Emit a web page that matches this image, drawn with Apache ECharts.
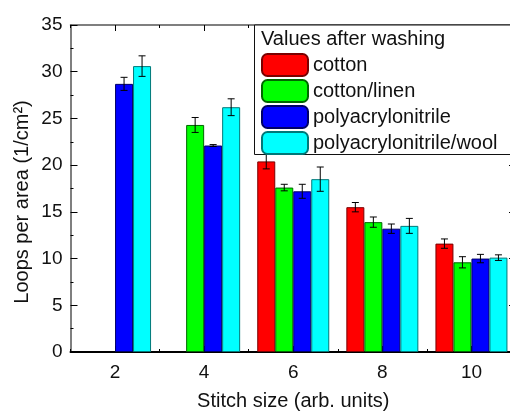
<!DOCTYPE html>
<html>
<head>
<meta charset="utf-8">
<script src="https://cdn.jsdelivr.net/npm/echarts@6/dist/echarts.min.js"></script>
<style>html,body{margin:0;padding:0;background:#fff}#c{width:510px;height:412px}</style>
</head>
<body>
<div id="c"></div>
<script>
const categories = ['2', '4', '6', '8', '10'];
const seriesNames = ['cotton', 'cotton/linen', 'polyacrylonitrile', 'polyacrylonitrile/wool'];
const cotton = [null, null, 20.4, 15.5, 11.6];
const cottonLinen = [null, 24.3, 17.6, 13.9, 9.6];
const pan = [28.7, 22.1, 17.2, 13.2, 10.0];
const panWool = [30.6, 26.2, 18.5, 13.5, 10.1];
const cottonErr = [null, null, 0.8, 0.5, 0.5];
const cottonLinenErr = [null, 0.8, 0.35, 0.55, 0.6];
const panErr = [0.7, 0.1, 0.75, 0.5, 0.45];
const panWoolErr = [1.1, 0.9, 1.3, 0.8, 0.3];
const yTicks = [0, 5, 10, 15, 20, 25, 30, 35];

const values = [cotton, cottonLinen, pan, panWool];
const errors = [cottonErr, cottonLinenErr, panErr, panWoolErr];
const fills = ['#ff0000', '#00ff00', '#0000ff', '#00ffff'];
const borders = ['#7a0000', '#006600', '#000066', '#007878'];
const BAR_W = 18;
const FONT = 'Liberation Sans, Arial, sans-serif';

const chart = echarts.init(document.getElementById('c'), null, {renderer: 'canvas'});

const barSeries = values.map((vals, i) => ({
  name: seriesNames[i],
  type: 'bar',
  xAxisIndex: 0,
  yAxisIndex: 0,
  barWidth: BAR_W,
  barGap: '0%',
  data: vals,
  itemStyle: {color: fills[i], borderColor: borders[i], borderWidth: 1},
  emphasis: {disabled: true},
  z: 2
}));

const errSeries = values.map((vals, i) => ({
  type: 'custom',
  xAxisIndex: 0,
  yAxisIndex: 0,
  z: 3,
  silent: true,
  data: vals.map((v, k) => v == null ? null : [k, v - errors[i][k], v + errors[i][k]]).filter(d => d),
  renderItem: function (params, api) {
    const off = (i - 1.5) * BAR_W;
    const lo = api.coord([api.value(0), api.value(1)]);
    const hi = api.coord([api.value(0), api.value(2)]);
    const x = lo[0] + off;
    const cap = 3.5;
    const st = {stroke: '#000', lineWidth: 1};
    return {
      type: 'group',
      children: [
        {type: 'line', shape: {x1: x, y1: lo[1], x2: x, y2: hi[1]}, style: st},
        {type: 'line', shape: {x1: x - cap, y1: lo[1], x2: x + cap, y2: lo[1]}, style: st},
        {type: 'line', shape: {x1: x - cap, y1: hi[1], x2: x + cap, y2: hi[1]}, style: st}
      ]
    };
  }
}));

function xAux(position, major, showLine, lineColor, lineWidth) {
  return {
    type: 'category',
    data: categories,
    position: position,
    boundaryGap: true,
    axisLine: {show: showLine, lineStyle: {color: lineColor, width: lineWidth}},
    axisTick: {show: true, inside: true, alignWithLabel: major, length: major ? 6 : 3, lineStyle: {color: '#000', width: 1}},
    axisLabel: {show: false},
    splitLine: {show: false}
  };
}

const option = {
  animation: false,
  backgroundColor: '#fff',
  grid: {left: 70.5, top: 25, width: 445.5, height: 327, containLabel: false, outerBoundsMode: 'none'},
  legend: {
    show: true,
    data: seriesNames,
    orient: 'vertical',
    left: 261,
    top: 53,
    padding: 0,
    itemWidth: 46,
    itemHeight: 22,
    itemGap: 2,
    selectedMode: false,
    textStyle: {fontFamily: FONT, fontSize: 20, color: '#111'},
    z: 20
  },
  xAxis: [
    {
      type: 'category',
      data: categories,
      position: 'bottom',
      boundaryGap: true,
      axisLine: {show: true, lineStyle: {color: '#000', width: 2}},
      axisTick: {show: true, inside: true, alignWithLabel: true, length: 6, lineStyle: {color: '#000', width: 1}},
      axisLabel: {show: true, margin: 11, fontFamily: FONT, fontSize: 19, color: '#111'},
      splitLine: {show: false},
      name: 'Stitch size (arb. units)',
      nameLocation: 'middle',
      nameGap: 39,
      nameTextStyle: {fontFamily: FONT, fontSize: 20, color: '#111'}
    },
    xAux('bottom', false, false, '#000', 1),
    xAux('top', true, true, '#555', 1.5),
    xAux('top', false, false, '#555', 1)
  ],
  yAxis: [
    {
      type: 'value',
      min: 0,
      max: 35,
      interval: 5,
      position: 'left',
      axisLine: {show: true, lineStyle: {color: '#555', width: 1.5}},
      axisTick: {show: true, inside: true, length: 7, lineStyle: {color: '#000', width: 1}},
      minorTick: {show: true, splitNumber: 2, length: 3, lineStyle: {color: '#000', width: 1}},
      axisLabel: {show: true, margin: 8, fontFamily: FONT, fontSize: 19, color: '#111',
        formatter: v => yTicks.indexOf(v) >= 0 ? String(v) : ''},
      splitLine: {show: false}
    },
    {
      type: 'value',
      min: 0,
      max: 35,
      interval: 5,
      position: 'right',
      axisLine: {show: true, lineStyle: {color: '#555', width: 1.5}},
      axisTick: {show: true, inside: true, length: 7, lineStyle: {color: '#000', width: 1}},
      minorTick: {show: true, splitNumber: 2, length: 3, lineStyle: {color: '#000', width: 1}},
      axisLabel: {show: false},
      splitLine: {show: false}
    }
  ],
  graphic: [
    {
      type: 'rect',
      z: 10,
      shape: {x: 254.5, y: 25, width: 280, height: 129.5},
      style: {fill: '#fff', stroke: '#111', lineWidth: 1}
    },
    {
      type: 'text',
      z: 11,
      x: 261,
      y: 39,
      style: {text: 'Values after washing', font: '20px ' + FONT, fill: '#111', verticalAlign: 'middle', align: 'left'}
    },
    {
      type: 'text',
      z: 11,
      x: 22,
      y: 202,
      rotation: Math.PI / 2,
      style: {text: 'Loops per area (1/cm²)', font: '20px ' + FONT, fill: '#111', verticalAlign: 'middle', align: 'center'}
    }
  ],
  series: barSeries.concat(errSeries)
};
chart.setOption(option);
</script>
</body>
</html>
